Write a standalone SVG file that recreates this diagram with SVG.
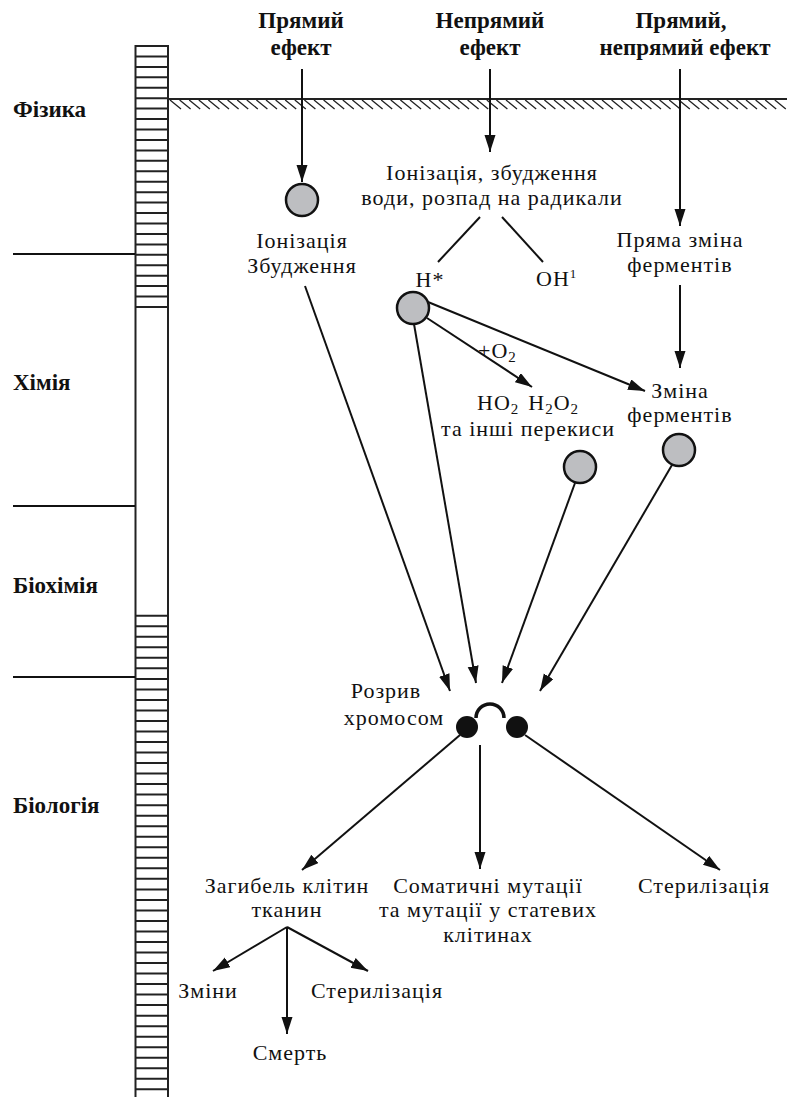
<svg xmlns="http://www.w3.org/2000/svg" width="787" height="1097" viewBox="0 0 787 1097">
<style>
.t{font-family:"Liberation Serif","DejaVu Serif",serif;font-size:22px;letter-spacing:1px;fill:#111;text-anchor:middle}
.b{font-family:"Liberation Serif","DejaVu Serif",serif;font-size:23px;font-weight:bold;fill:#111;text-anchor:middle}
.l{text-anchor:start}
.c{stroke:#111;stroke-width:2;fill:none}
.a{stroke:#111;stroke-width:2;fill:none;marker-end:url(#ah)}
.rg{stroke:#222;stroke-width:2}
.h{stroke:#222;stroke-width:1.3}
.g{fill:#bdbec1;stroke:#111;stroke-width:2.5}
.k{fill:#111}
</style>
<defs>
<marker id="ah" markerUnits="userSpaceOnUse" markerWidth="18" markerHeight="12" refX="17" refY="5.5" orient="auto">
<path d="M0,0 L17,5.5 L0,11 z" fill="#111"/>
</marker>
</defs>
<rect width="787" height="1097" fill="#fff"/>
<g id="scale">
<line class="rg" x1="135.5" y1="45" x2="135.5" y2="1097"/>
<line class="rg" x1="168" y1="45" x2="168" y2="1097"/>
<line class="rg" x1="135" y1="46" x2="168" y2="46"/><line class="rg" x1="135" y1="56.4" x2="168" y2="56.4"/><line class="rg" x1="135" y1="66.9" x2="168" y2="66.9"/><line class="rg" x1="135" y1="77.3" x2="168" y2="77.3"/><line class="rg" x1="135" y1="87.8" x2="168" y2="87.8"/><line class="rg" x1="135" y1="98.2" x2="168" y2="98.2"/><line class="rg" x1="135" y1="108.6" x2="168" y2="108.6"/><line class="rg" x1="135" y1="119.1" x2="168" y2="119.1"/><line class="rg" x1="135" y1="129.5" x2="168" y2="129.5"/><line class="rg" x1="135" y1="140" x2="168" y2="140"/><line class="rg" x1="135" y1="150.4" x2="168" y2="150.4"/><line class="rg" x1="135" y1="160.8" x2="168" y2="160.8"/><line class="rg" x1="135" y1="171.3" x2="168" y2="171.3"/><line class="rg" x1="135" y1="181.7" x2="168" y2="181.7"/><line class="rg" x1="135" y1="192.2" x2="168" y2="192.2"/><line class="rg" x1="135" y1="202.6" x2="168" y2="202.6"/><line class="rg" x1="135" y1="213" x2="168" y2="213"/><line class="rg" x1="135" y1="223.5" x2="168" y2="223.5"/><line class="rg" x1="135" y1="233.9" x2="168" y2="233.9"/><line class="rg" x1="135" y1="244.4" x2="168" y2="244.4"/><line class="rg" x1="135" y1="254.8" x2="168" y2="254.8"/><line class="rg" x1="135" y1="265.2" x2="168" y2="265.2"/><line class="rg" x1="135" y1="275.7" x2="168" y2="275.7"/><line class="rg" x1="135" y1="286.1" x2="168" y2="286.1"/><line class="rg" x1="135" y1="296.6" x2="168" y2="296.6"/><line class="rg" x1="135" y1="307" x2="168" y2="307"/>
<line class="rg" x1="135" y1="615.7" x2="168" y2="615.7"/><line class="rg" x1="135" y1="626.2" x2="168" y2="626.2"/><line class="rg" x1="135" y1="636.8" x2="168" y2="636.8"/><line class="rg" x1="135" y1="647.3" x2="168" y2="647.3"/><line class="rg" x1="135" y1="657.8" x2="168" y2="657.8"/><line class="rg" x1="135" y1="668.3" x2="168" y2="668.3"/><line class="rg" x1="135" y1="678.9" x2="168" y2="678.9"/><line class="rg" x1="135" y1="689.4" x2="168" y2="689.4"/><line class="rg" x1="135" y1="699.9" x2="168" y2="699.9"/><line class="rg" x1="135" y1="710.4" x2="168" y2="710.4"/><line class="rg" x1="135" y1="721" x2="168" y2="721"/><line class="rg" x1="135" y1="731.5" x2="168" y2="731.5"/><line class="rg" x1="135" y1="742" x2="168" y2="742"/><line class="rg" x1="135" y1="752.5" x2="168" y2="752.5"/><line class="rg" x1="135" y1="763.1" x2="168" y2="763.1"/><line class="rg" x1="135" y1="773.6" x2="168" y2="773.6"/><line class="rg" x1="135" y1="784.1" x2="168" y2="784.1"/><line class="rg" x1="135" y1="794.6" x2="168" y2="794.6"/><line class="rg" x1="135" y1="805.2" x2="168" y2="805.2"/><line class="rg" x1="135" y1="815.7" x2="168" y2="815.7"/><line class="rg" x1="135" y1="826.2" x2="168" y2="826.2"/><line class="rg" x1="135" y1="836.7" x2="168" y2="836.7"/><line class="rg" x1="135" y1="847.3" x2="168" y2="847.3"/><line class="rg" x1="135" y1="857.8" x2="168" y2="857.8"/><line class="rg" x1="135" y1="868.3" x2="168" y2="868.3"/><line class="rg" x1="135" y1="878.8" x2="168" y2="878.8"/><line class="rg" x1="135" y1="889.4" x2="168" y2="889.4"/><line class="rg" x1="135" y1="899.9" x2="168" y2="899.9"/><line class="rg" x1="135" y1="910.4" x2="168" y2="910.4"/><line class="rg" x1="135" y1="920.9" x2="168" y2="920.9"/><line class="rg" x1="135" y1="931.5" x2="168" y2="931.5"/><line class="rg" x1="135" y1="942" x2="168" y2="942"/><line class="rg" x1="135" y1="952.5" x2="168" y2="952.5"/><line class="rg" x1="135" y1="963" x2="168" y2="963"/><line class="rg" x1="135" y1="973.6" x2="168" y2="973.6"/><line class="rg" x1="135" y1="984.1" x2="168" y2="984.1"/><line class="rg" x1="135" y1="994.6" x2="168" y2="994.6"/><line class="rg" x1="135" y1="1005.1" x2="168" y2="1005.1"/><line class="rg" x1="135" y1="1015.7" x2="168" y2="1015.7"/><line class="rg" x1="135" y1="1026.2" x2="168" y2="1026.2"/><line class="rg" x1="135" y1="1036.7" x2="168" y2="1036.7"/><line class="rg" x1="135" y1="1047.2" x2="168" y2="1047.2"/><line class="rg" x1="135" y1="1057.8" x2="168" y2="1057.8"/><line class="rg" x1="135" y1="1068.3" x2="168" y2="1068.3"/><line class="rg" x1="135" y1="1078.8" x2="168" y2="1078.8"/><line class="rg" x1="135" y1="1089.3" x2="168" y2="1089.3"/>
<line class="c" x1="13" y1="254" x2="135" y2="254"/>
<line class="c" x1="13" y1="506" x2="135" y2="506"/>
<line class="c" x1="13" y1="677" x2="135" y2="677"/>
</g>
<g id="surface">
<line x1="168" y1="99" x2="787" y2="99" stroke="#222" stroke-width="2"/>
<path class="h" d="M170,100 l11,9 M179.6,100 l11,9 M189.2,100 l11,9 M198.8,100 l11,9 M208.4,100 l11,9 M218,100 l11,9 M227.6,100 l11,9 M237.2,100 l11,9 M246.8,100 l11,9 M256.4,100 l11,9 M266,100 l11,9 M275.6,100 l11,9 M285.2,100 l11,9 M294.8,100 l11,9 M304.4,100 l11,9 M314,100 l11,9 M323.6,100 l11,9 M333.2,100 l11,9 M342.8,100 l11,9 M352.4,100 l11,9 M362,100 l11,9 M371.6,100 l11,9 M381.2,100 l11,9 M390.8,100 l11,9 M400.4,100 l11,9 M410,100 l11,9 M419.6,100 l11,9 M429.2,100 l11,9 M438.8,100 l11,9 M448.4,100 l11,9 M458,100 l11,9 M467.6,100 l11,9 M477.2,100 l11,9 M486.8,100 l11,9 M496.4,100 l11,9 M506,100 l11,9 M515.6,100 l11,9 M525.2,100 l11,9 M534.8,100 l11,9 M544.4,100 l11,9 M554,100 l11,9 M563.6,100 l11,9 M573.2,100 l11,9 M582.8,100 l11,9 M592.4,100 l11,9 M602,100 l11,9 M611.6,100 l11,9 M621.2,100 l11,9 M630.8,100 l11,9 M640.4,100 l11,9 M650,100 l11,9 M659.6,100 l11,9 M669.2,100 l11,9 M678.8,100 l11,9 M688.4,100 l11,9 M698,100 l11,9 M707.6,100 l11,9 M717.2,100 l11,9 M726.8,100 l11,9 M736.4,100 l11,9 M746,100 l11,9 M755.6,100 l11,9 M765.2,100 l11,9 M774.8,100 l11,9"/>
</g>
<g id="levels">
<text class="b l" x="13" y="117">Фізика</text>
<text class="b l" x="13" y="390">Хімія</text>
<text class="b l" x="13" y="593">Біохімія</text>
<text class="b l" x="13" y="813">Біологія</text>
</g>
<g id="direct"><text class="b" x="301" y="28">Прямий</text><text class="b" x="301" y="55">ефект</text></g>
<g id="indirect"><text class="b" x="490" y="28">Непрямий</text><text class="b" x="490" y="55">ефект</text></g>
<g id="both"><text class="b" x="681" y="28">Прямий,</text><text class="b" x="685" y="55">непрямий ефект</text></g>
<g id="ion1"><circle class="g" cx="302" cy="200" r="16"/><text class="t" x="302" y="248">Іонізація</text><text class="t" x="302" y="273">Збудження</text></g>
<g id="water"><text class="t" x="492" y="180">Іонізація, збудження</text><text class="t" x="492" y="205">води, розпад на радикали</text></g>
<g id="h"><text class="t" x="430" y="287">H*</text><circle class="g" cx="413" cy="308" r="16"/></g>
<g id="oh"><text class="t l" x="536" y="286">OH<tspan font-size="13" dy="-8">1</tspan></text></g>
<g id="o2"><text class="t l" x="478" y="358">+O<tspan font-size="15" dy="4">2</tspan></text></g>
<g id="perox"><text class="t l" x="477" y="410">HO<tspan font-size="15" dy="4">2</tspan><tspan dx="9" dy="-4">H</tspan><tspan font-size="15" dy="4">2</tspan><tspan dy="-4">O</tspan><tspan font-size="15" dy="4">2</tspan></text><text class="t" x="528" y="436">та інші перекиси</text><circle class="g" cx="580" cy="467" r="16"/></g>
<g id="enz1"><text class="t" x="680" y="247">Пряма зміна</text><text class="t" x="680" y="272">ферментів</text></g>
<g id="enz2"><text class="t" x="680" y="398">Зміна</text><text class="t" x="680" y="422">ферментів</text><circle class="g" cx="679" cy="450" r="16"/></g>
<g id="break"><text class="t" x="386" y="698">Розрив</text><text class="t" x="394" y="725">хромосом</text><circle class="k" cx="467" cy="727" r="11"/><circle class="k" cx="517" cy="727" r="11"/><path d="M476,718 A14,14 0 0 1 504,718" stroke="#111" stroke-width="3.5" fill="none"/></g>
<g id="death"><text class="t" x="287" y="893">Загибель клітин</text><text class="t" x="287" y="917">тканин</text></g>
<g id="mut"><text class="t" x="488" y="893">Соматичні мутації</text><text class="t" x="488" y="917">та мутації у статевих</text><text class="t" x="488" y="942">клітинах</text></g>
<g id="steril1"><text class="t" x="704" y="893">Стерилізація</text></g>
<g id="changes"><text class="t" x="208" y="998">Зміни</text></g>
<g id="steril2"><text class="t" x="377" y="998">Стерилізація</text></g>
<g id="deathend"><text class="t" x="290" y="1060">Смерть</text></g>
<g id="connectors">
<line class="a" x1="302" y1="69" x2="302" y2="182"/>
<line class="a" x1="490" y1="69" x2="490" y2="152"/>
<line class="a" x1="680" y1="69" x2="680" y2="226"/>
<line class="c" x1="480" y1="217" x2="438" y2="262"/>
<line class="c" x1="502" y1="217" x2="543" y2="262"/>
<line class="a" x1="305" y1="286" x2="450" y2="691"/>
<line class="a" x1="414" y1="324" x2="476" y2="683"/>
<line class="a" x1="427" y1="318" x2="532" y2="387"/>
<line class="a" x1="428" y1="302" x2="645" y2="391"/>
<line class="a" x1="680" y1="285" x2="680" y2="368"/>
<line class="a" x1="575" y1="483" x2="502" y2="683"/>
<line class="a" x1="672" y1="465" x2="540" y2="691"/>
<line class="a" x1="460" y1="735" x2="302" y2="870"/>
<line class="a" x1="480" y1="745" x2="480" y2="869"/>
<line class="a" x1="525" y1="735" x2="720" y2="870"/>
<line class="a" x1="287" y1="927" x2="213" y2="971"/>
<line class="a" x1="287" y1="927" x2="287" y2="1034"/>
<line class="a" x1="287" y1="927" x2="368" y2="971"/>
</g>
</svg>
